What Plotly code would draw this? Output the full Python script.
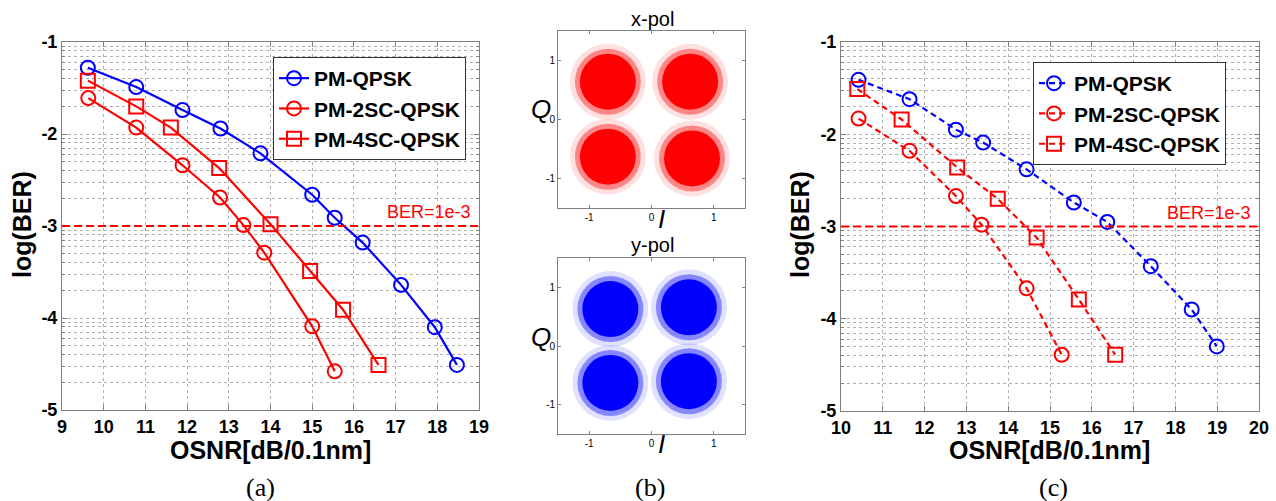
import numpy as np
import plotly.graph_objects as go

W, H = 1276, 501

# ---------------- data ----------------
# panel (a)  x = OSNR [dB/0.1nm], y = log10(BER)
a_qpsk_x = [9.62, 10.78, 11.89, 12.80, 13.76, 15.00, 15.54, 16.21, 17.13, 17.94, 18.47]
a_qpsk_y = [-1.28, -1.49, -1.74, -1.94, -2.21, -2.66, -2.91, -3.18, -3.64, -4.10, -4.51]
a_2sc_x = [9.63, 10.78, 11.89, 12.79, 13.35, 13.85, 15.00, 15.54]
a_2sc_y = [-1.61, -1.93, -2.34, -2.69, -2.99, -3.29, -4.09, -4.58]
a_4sc_x = [9.62, 10.78, 11.61, 12.77, 14.00, 14.95, 15.74, 16.59]
a_4sc_y = [-1.42, -1.70, -1.93, -2.37, -2.98, -3.49, -3.91, -4.51]

# panel (c)
c_qpsk_x = [10.42, 11.64, 12.75, 13.40, 14.44, 15.57, 16.37, 17.41, 18.39, 18.99]
c_qpsk_y = [-1.41, -1.62, -1.95, -2.09, -2.38, -2.74, -2.95, -3.43, -3.90, -4.30]
c_2sc_x = [10.42, 11.64, 12.75, 13.36, 14.44, 15.28]
c_2sc_y = [-1.83, -2.18, -2.67, -2.98, -3.67, -4.39]
c_4sc_x = [10.39, 11.45, 12.78, 13.75, 14.68, 15.69, 16.56]
c_4sc_y = [-1.51, -1.84, -2.36, -2.70, -3.12, -3.79, -4.39]

series_names = ["PM-QPSK", "PM-2SC-QPSK", "PM-4SC-QPSK"]
ber_threshold = -3
ber_label = "BER=1e-3"

y_tickvals = [-5, -4, -3, -2, -1]
y_ticktext = ["-5", "-4", "-3", "-2", "-1"]
a_xticks = [9, 10, 11, 12, 13, 14, 15, 16, 17, 18, 19]
c_xticks = [10, 11, 12, 13, 14, 15, 16, 17, 18, 19, 20]

# panel (b) constellation cluster centres (I, Q)
xpol_I = [-0.70, 0.62, -0.70, 0.65]
xpol_Q = [0.64, 0.64, -0.63, -0.66]
ypol_I = [-0.66, 0.60, -0.66, 0.60]
ypol_Q = [0.63, 0.66, -0.63, -0.60]
const_ticks = [-1, 0, 1]

# ---------------- helpers ----------------
def fx(p):
    return p / W

def fy(p):
    return 1 - p / H

RED = "#ff0000"
BLUE = "#0000ff"
GRID = "#b0b0b0"
AXC = "#808080"
SANS = "Liberation Sans"
SERIF = "Liberation Serif"

minor_vals = [n + np.log10(k) for n in range(-5, -1) for k in range(2, 10)]

fig = go.Figure()

def add_lines(xs, ys, name, color, symbol, dash, xa, ya, legend):
    fig.add_trace(go.Scatter(
        x=xs, y=ys, name=name, mode="lines+markers",
        line=dict(color=color, width=2.2, dash=dash),
        marker=dict(symbol=symbol, size=14, color=color, line=dict(color=color, width=2)),
        xaxis=xa, yaxis=ya, legend=legend, hoverinfo="skip"))

add_lines(a_qpsk_x, a_qpsk_y, series_names[0], BLUE, "circle-open", "solid", "x", "y", "legend")
add_lines(a_2sc_x, a_2sc_y, series_names[1], RED, "circle-open", "solid", "x", "y", "legend")
add_lines(a_4sc_x, a_4sc_y, series_names[2], RED, "square-open", "solid", "x", "y", "legend")

add_lines(c_qpsk_x, c_qpsk_y, series_names[0], BLUE, "circle-open", "6px,4px", "x4", "y4", "legend2")
add_lines(c_2sc_x, c_2sc_y, series_names[1], RED, "circle-open", "6px,4px", "x4", "y4", "legend2")
add_lines(c_4sc_x, c_4sc_y, series_names[2], RED, "square-open", "6px,4px", "x4", "y4", "legend2")

# constellation blobs (dense core + sparse fringe)
for I, Q, col, xa, ya in [(xpol_I, xpol_Q, RED, "x2", "y2"), (ypol_I, ypol_Q, BLUE, "x3", "y3")]:
    for size, op in [(76, 0.12), (66, 0.4), (56, 1.0)]:
        fig.add_trace(go.Scatter(
            x=I, y=Q, mode="markers", showlegend=False, hoverinfo="skip",
            marker=dict(size=size, color=col, opacity=op, line=dict(width=0)),
            xaxis=xa, yaxis=ya))

tickfont = dict(family=SANS, size=18, color="black", weight="bold")

def line_xaxis(dom, rng, ticks, anchor):
    return dict(domain=dom, range=rng, tickvals=ticks, anchor=anchor, automargin=False,
                showline=True, linecolor=AXC, linewidth=1, mirror="ticks",
                ticks="inside", ticklen=5, tickcolor=AXC,
                showgrid=True, gridcolor=GRID, griddash="dot", gridwidth=1,
                zeroline=False, tickfont=tickfont, fixedrange=True)

def line_yaxis(dom, anchor):
    return dict(domain=dom, range=[-5, -1], tickvals=y_tickvals, ticktext=y_ticktext,
                anchor=anchor, automargin=False, showline=True, linecolor=AXC, linewidth=1,
                mirror="ticks", ticks="inside", ticklen=5, tickcolor=AXC,
                showgrid=True, gridcolor=GRID, griddash="dot", gridwidth=1,
                zeroline=False, tickfont=tickfont, fixedrange=True,
                minor=dict(tickmode="array", tickvals=minor_vals, ticks="inside",
                           ticklen=3, tickcolor=AXC, showgrid=True,
                           gridcolor=GRID, griddash="dot", gridwidth=1))

def const_axis(dom, anchor):
    return dict(domain=dom, range=[-1.5, 1.5], tickvals=const_ticks,
                ticktext=[str(t) for t in const_ticks], anchor=anchor, automargin=False,
                showline=True, linecolor=AXC, linewidth=1, mirror="ticks",
                ticks="inside", ticklen=3, tickcolor=AXC, showgrid=False,
                zeroline=False, tickfont=dict(family=SANS, size=10, color="black"),
                fixedrange=True)

layout = dict(
    width=W, height=H, margin=dict(l=0, r=0, t=0, b=0, pad=0, autoexpand=False),
    paper_bgcolor="white", plot_bgcolor="white", showlegend=True,
    xaxis=line_xaxis([fx(62), fx(479)], [9, 19], a_xticks, "y"),
    yaxis=line_yaxis([fy(410), fy(42)], "x"),
    xaxis4=line_xaxis([fx(841), fx(1259)], [10, 20], c_xticks, "y4"),
    yaxis4=line_yaxis([fy(411), fy(42)], "x4"),
    xaxis2=const_axis([fx(558), fx(745)], "y2"),
    yaxis2=const_axis([fy(208), fy(31)], "x2"),
    xaxis3=const_axis([fx(558), fx(745)], "y3"),
    yaxis3=const_axis([fy(434), fy(258)], "x3"),
)

legfont = dict(family=SANS, size=21, color="black", weight="bold")
layout["legend"] = dict(x=fx(273), y=fy(57), xanchor="left", yanchor="top",
                        bordercolor="#333333", borderwidth=1, bgcolor="white",
                        font=legfont, itemwidth=30, tracegroupgap=0)
layout["legend2"] = dict(x=fx(1033), y=fy(62), xanchor="left", yanchor="top",
                         bordercolor="#333333", borderwidth=1, bgcolor="white",
                         font=legfont, itemwidth=30, tracegroupgap=0)
fig.update_layout(**layout)

# BER threshold lines
for xa, ya, rng in [("x", "y", [9, 19]), ("x4", "y4", [10, 20])]:
    fig.add_shape(type="line", xref=xa, yref=ya, x0=rng[0], x1=rng[1],
                  y0=ber_threshold, y1=ber_threshold,
                  line=dict(color=RED, width=2, dash="8px,4px"))
    fig.add_annotation(xref=xa, yref=ya, x=rng[1], y=ber_threshold, text=ber_label,
                       showarrow=False, xanchor="right", yanchor="bottom",
                       xshift=-6, yshift=2,
                       font=dict(family=SANS, size=18, color=RED))

def ann(text, x, y, size, family=SANS, bold=True, angle=0, color="black"):
    fig.add_annotation(xref="paper", yref="paper", x=fx(x), y=fy(y), text=text,
                       showarrow=False, xanchor="center", yanchor="middle", textangle=angle,
                       font=dict(family=family, size=size, color=color,
                                 weight="bold" if bold else "normal"))

# axis titles
ann("log(BER)", 22, 225, 25, angle=-90)
ann("log(BER)", 800, 225, 25, angle=-90)
ann("OSNR[dB/0.1nm]", 270, 450, 25)
ann("OSNR[dB/0.1nm]", 1049, 450, 25)

# captions
ann("(a)", 260, 487, 26, family=SERIF, bold=False)
ann("(b)", 650, 487, 26, family=SERIF, bold=False)
ann("(c)", 1053, 487, 26, family=SERIF, bold=False)

# panel (b) labels
ann("x-pol", 652, 19, 20, bold=False)
ann("y-pol", 652, 245, 20, bold=False)
ann("<i>Q</i>", 541, 109, 26, bold=False)
ann("<i>Q</i>", 541, 337, 26, bold=False)
ann("<i>I</i>", 661, 219, 26, bold=False)
ann("<i>I</i>", 661, 444, 26, bold=False)

fig.write_html(
    "out.html",
    config={"displayModeBar": False},
    post_script="document.body.style.margin='0';document.body.style.overflow='hidden';",
)
